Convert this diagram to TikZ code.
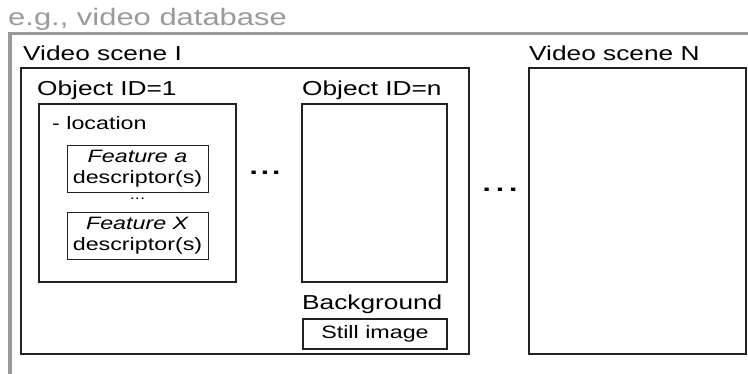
\documentclass[tikz,border=0pt]{standalone}
\usepackage{fontspec}
\setmainfont{Liberation Sans}[FakeStretch=1.3]
\definecolor{framegray}{HTML}{9A9A9A}
\definecolor{linedark}{HTML}{222222}
\begin{document}
\begin{tikzpicture}[x=1pt,y=-1pt,
  box/.style={draw=linedark,rectangle,inner sep=0pt},
  scenebox/.style={box,line width=1.8pt},
  objbox/.style={box,line width=1.4pt},
  featbox/.style={box,line width=0.9pt,align=center,font=\fontsize{17.9}{21.5}\selectfont},
  biglabel/.style={anchor=base west,inner sep=0pt,font=\fontsize{20.2}{23}\selectfont},
  smalllabel/.style={anchor=base west,inner sep=0pt,font=\fontsize{17.9}{21}\selectfont},
  dotsnode/.style={inner sep=0pt,font=\fontsize{23}{23}\selectfont\bfseries}]
\useasboundingbox (0,0) rectangle (748,374);

% database frame and its caption
\node[anchor=base west,inner sep=0pt,text=framegray,font=\fontsize{23.8}{27}\selectfont] (dbtitle) at (8,26) {e.g., video database};
\coordinate (frameR) at (748,33.5);
\coordinate (frameC) at (10,33.5);
\coordinate (frameB) at (10,374);
\draw[framegray,line width=3.5pt] (frameR) -- (frameC) -- (frameB);

% video scene I
\node[biglabel] (sceneIlbl) at (23,61) {Video scene I};
\node[scenebox,minimum width=448,minimum height=286] (sceneI) at (245,211) {};

% object 1 with its feature descriptors
\node[biglabel] (obj1lbl) at (37,96) {Object ID=1};
\node[objbox,minimum width=197,minimum height=178] (obj1) at (137.5,193) {};
\node[smalllabel] (loc) at (52,130) {- location};
\node[featbox,minimum width=141,minimum height=47] (feata) at (137.5,168.5) {\textit{Feature a}\\descriptor(s)};
\node[inner sep=0pt,font=\fontsize{14}{14}\selectfont] (featdots) at (137.5,199) {...};
\node[featbox,minimum width=141,minimum height=47] (featx) at (137.5,235.5) {\textit{Feature X}\\descriptor(s)};

\node[dotsnode] (objdots) at (265,173) {.\kern3pt.\kern3pt.};

% object n
\node[biglabel] (objnlbl) at (302,96) {Object ID=n};
\node[objbox,minimum width=145,minimum height=178] (objn) at (374.5,193) {};

% background
\node[biglabel] (bglbl) at (302,310) {Background};
\node[objbox,minimum width=144,minimum height=30,font=\fontsize{17.9}{21}\selectfont] (still) at (375,334) {Still image};

\node[dotsnode] (scenedots) at (500,190) {.\kern5pt.\kern5pt.};

% video scene N
\node[biglabel] (sceneNlbl) at (529,61) {Video scene N};
\node[scenebox,minimum width=217,minimum height=286] (sceneN) at (637.5,211) {};
\end{tikzpicture}
\end{document}
